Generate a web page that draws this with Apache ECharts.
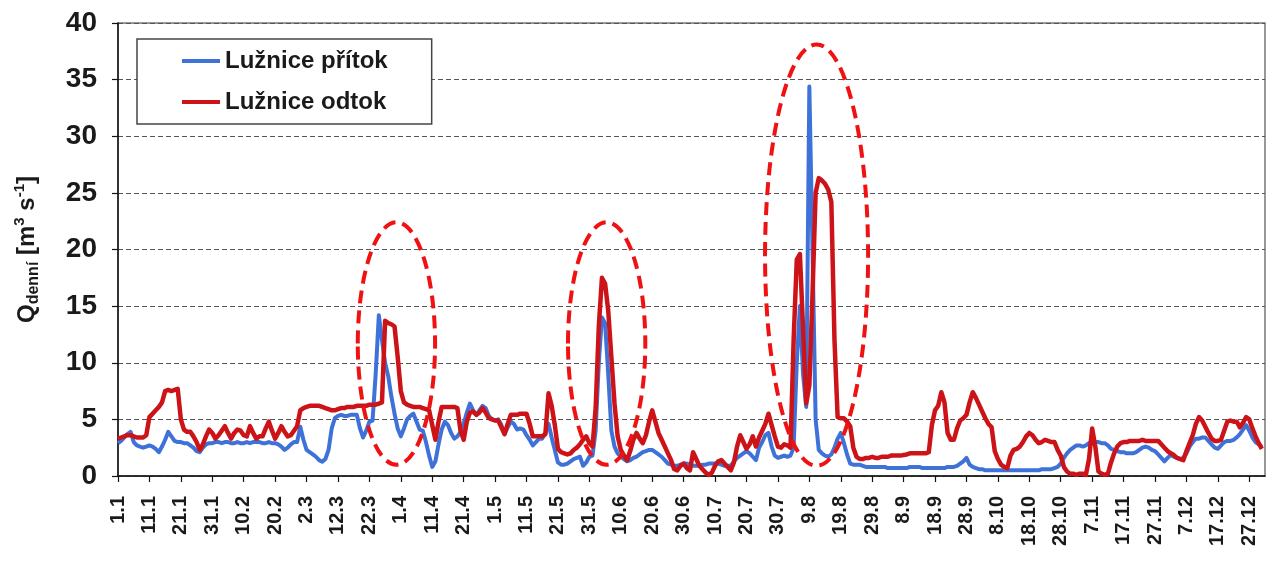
<!DOCTYPE html>
<html><head><meta charset="utf-8">
<script src="https://cdn.jsdelivr.net/npm/echarts@6/dist/echarts.min.js"></script>
<style>html,body{margin:0;padding:0;background:#fff}#c{width:1272px;height:567px}</style>
</head><body><div id="c"></div>
<script>
// x tick labels, one every 10 days (day 1 = index 0)
const tickLabels = ['1.1','11.1','21.1','31.1','10.2','20.2','2.3','12.3','22.3','1.4','11.4','21.4','1.5','11.5','21.5','31.5','10.6','20.6','30.6','10.7','20.7','30.7','9.8','19.8','29.8','8.9','18.9','28.9','8.10','18.10','28.10','7.11','17.11','27.11','7.12','17.12','27.12'];
const seriesNames = ['Lužnice přítok', 'Lužnice odtok'];
const yTicks = [0, 5, 10, 15, 20, 25, 30, 35, 40];

// daily inflow (přítok), m3/s
const inflow = [
2.9,3.1,3.4,3.7,3.9,3.0,2.7,2.6,2.5,2.6,
2.7,2.6,2.4,2.1,2.6,3.2,3.9,3.5,3.1,3.0,
3.0,2.9,2.9,2.7,2.5,2.2,2.1,2.5,2.8,2.9,
2.9,3.0,3.0,2.9,3.0,3.0,2.9,2.9,3.0,2.9,
2.9,3.0,2.9,3.0,3.0,3.0,2.9,2.9,3.0,2.9,
2.9,2.8,2.6,2.3,2.5,2.8,3.0,3.0,4.35,3.2,
2.3,2.1,1.9,1.7,1.4,1.26,1.5,2.3,4.2,5.1,
5.3,5.4,5.3,5.3,5.4,5.4,5.4,4.2,3.4,4.0,
4.8,4.9,9.0,14.2,12.0,10.0,8.8,7.0,5.5,4.2,
3.5,4.2,5.0,5.3,5.5,4.8,4.1,4.0,3.0,1.8,
0.8,1.3,2.8,4.1,4.8,4.5,3.8,3.3,3.5,3.9,
4.6,5.6,6.4,5.8,5.4,5.8,6.2,6.0,5.3,5.0,
4.9,5.0,4.5,3.7,4.3,4.8,4.6,4.1,4.2,4.1,
3.6,3.2,2.7,3.0,3.3,3.3,3.8,4.6,3.4,2.3,
1.2,1.0,1.0,1.1,1.3,1.5,1.6,1.7,0.9,1.2,
1.7,1.8,4.0,10.0,14.0,13.5,9.0,4.0,2.6,2.0,
1.7,1.5,1.3,1.4,1.6,1.7,1.9,2.1,2.2,2.3,
2.3,2.1,1.9,1.7,1.4,1.1,1.0,0.9,0.9,1.0,
1.1,1.1,1.0,0.9,0.9,0.9,1.0,1.0,1.1,1.1,
1.1,1.1,1.0,0.9,0.9,0.9,1.3,1.6,1.8,2.0,
2.2,2.0,1.7,1.4,2.5,3.0,3.6,3.8,2.6,1.8,
1.6,1.7,1.8,1.7,1.8,2.5,10.0,15.0,9.0,6.1,
34.4,20.0,5.0,2.3,2.0,1.8,1.7,1.9,2.5,3.3,
3.8,2.9,1.9,1.1,1.0,1.0,1.0,0.9,0.8,0.8,
0.8,0.8,0.8,0.8,0.8,0.7,0.7,0.7,0.7,0.7,
0.7,0.7,0.8,0.8,0.8,0.8,0.7,0.7,0.7,0.7,
0.7,0.7,0.7,0.7,0.8,0.8,0.8,0.9,1.1,1.3,
1.6,1.0,0.8,0.7,0.6,0.6,0.5,0.5,0.5,0.5,
0.5,0.5,0.5,0.5,0.5,0.5,0.5,0.5,0.5,0.5,
0.5,0.5,0.5,0.5,0.6,0.6,0.6,0.6,0.7,0.8,
1.1,1.6,2.0,2.3,2.5,2.7,2.7,2.6,2.7,2.9,
3.0,3.0,3.0,2.9,2.9,2.7,2.4,2.3,2.2,2.1,
2.1,2.0,2.0,2.0,2.1,2.3,2.5,2.6,2.5,2.3,
2.2,1.9,1.6,1.3,1.6,1.85,1.7,1.6,1.5,1.6,
2.0,2.6,3.0,3.3,3.3,3.4,3.4,3.1,2.8,2.5,
2.4,2.7,3.0,3.1,3.1,3.2,3.4,3.7,4.1,4.5,
4.0,3.4,3.0,2.8,2.6
];

// daily outflow (odtok), m3/s
const outflow = [
3.3,3.4,3.5,3.6,3.6,3.5,3.4,3.4,3.4,3.6,
5.2,5.5,5.8,6.1,6.5,7.5,7.6,7.5,7.6,7.7,
5.0,4.1,3.9,3.9,3.5,3.0,2.3,2.8,3.5,4.1,
3.8,3.3,3.6,4.0,4.4,3.8,3.3,3.8,4.1,4.0,
3.6,3.5,4.4,3.8,3.3,3.5,3.5,4.2,4.8,4.0,
3.3,3.8,4.4,3.9,3.5,3.6,4.0,4.4,5.8,6.0,
6.1,6.2,6.2,6.2,6.2,6.1,6.0,5.9,5.8,5.8,
5.9,6.0,6.0,6.1,6.1,6.1,6.2,6.2,6.2,6.2,
6.3,6.3,6.3,6.4,6.5,13.7,13.5,13.4,13.2,10.5,
7.5,6.5,6.3,6.2,6.1,6.1,6.1,6.0,5.9,5.8,
4.5,3.2,4.8,6.1,6.1,6.1,6.1,6.1,6.0,4.0,
3.2,4.8,5.6,5.7,5.4,5.6,6.0,5.6,5.1,5.0,
4.9,4.9,4.3,3.7,4.6,5.4,5.4,5.4,5.5,5.5,
5.5,4.6,3.5,3.5,3.5,3.5,3.7,7.3,6.2,4.5,
2.4,2.1,2.0,1.9,2.0,2.3,2.5,2.8,3.2,3.5,
2.9,2.6,6.0,13.2,17.5,17.0,14.6,10.5,6.4,3.5,
2.3,1.8,1.4,2.2,3.2,3.8,3.3,2.9,3.6,4.8,
5.8,4.8,3.8,3.2,2.6,2.0,1.4,0.6,0.5,0.9,
1.1,0.7,0.5,2.1,1.5,0.9,0.6,0.3,0.1,0.3,
0.9,1.3,1.4,1.1,0.8,0.5,1.2,2.6,3.6,3.0,
2.4,2.8,3.5,2.6,3.4,4.0,4.6,5.5,4.5,3.5,
2.6,2.5,2.8,2.7,2.5,12.0,19.1,19.6,13.0,6.4,
8.0,16.0,25.0,26.3,26.1,25.8,25.3,24.2,12.0,5.2,
5.1,5.1,4.8,4.4,2.5,1.7,1.5,1.5,1.6,1.6,
1.7,1.6,1.6,1.7,1.7,1.7,1.8,1.8,1.8,1.8,
1.85,1.9,2.0,2.0,2.0,2.0,2.0,2.0,2.1,4.5,
5.8,6.2,7.4,6.5,3.8,3.2,3.2,4.2,4.9,5.1,
5.4,6.5,7.4,6.9,6.3,5.7,5.1,4.6,4.3,2.2,
1.5,1.0,0.8,0.7,1.8,2.3,2.4,2.6,3.0,3.5,
3.8,3.6,3.2,2.9,3.0,3.2,3.1,3.0,3.0,2.3,
1.8,0.8,0.4,0.2,0.2,0.1,0.2,0.2,0.1,1.5,
4.2,2.6,0.4,0.2,0.1,0.2,1.2,2.0,2.6,2.9,
3.0,3.0,3.1,3.1,3.1,3.1,3.2,3.1,3.1,3.1,
3.1,3.1,2.8,2.5,2.2,2.0,1.85,1.6,1.5,1.4,
2.2,2.9,3.6,4.6,5.2,4.9,4.35,3.8,3.3,3.1,
3.1,3.2,4.0,4.8,4.9,4.8,4.8,4.3,4.7,5.2,
5.0,4.2,3.5,2.9,2.4
];

// highlighted flood episodes (day index, flow) – drawn as dashed ellipses
const highlights = [
  {day: 88.6, q: 11.7, halfDays: 12.3, halfQ: 10.7},
  {day: 155.5, q: 11.7, halfDays: 12.3, halfQ: 10.7},
  {day: 222.3, q: 19.5, halfDays: 16.4, halfQ: 18.6}
];

const FONT = '"Liberation Sans", Arial, sans-serif';
const chart = echarts.init(document.getElementById('c'), null, {renderer: 'canvas'});
chart.setOption({
  animation: false,
  backgroundColor: '#fff',
  grid: {left: 118, right: 7, top: 23, bottom: 91, show: true, borderColor: '#777', borderWidth: 1.5, backgroundColor: '#fff'},
  legend: {
    orient: 'vertical', left: 137, top: 39,
    padding: [10, 44, 10, 45], itemGap: 17, itemWidth: 38, itemHeight: 4, icon: 'rect',
    borderColor: '#444', borderWidth: 1.5, backgroundColor: '#fff', borderRadius: 0,
    textStyle: {fontSize: 24, fontWeight: 'bold', color: '#1a1a1a', fontFamily: FONT},
    data: seriesNames
  },
  xAxis: {
    type: 'value', min: 0, max: 365, interval: 10,
    axisLine: {show: true, onZero: false, lineStyle: {color: '#111', width: 1.5}},
    axisTick: {show: true, length: 6, lineStyle: {color: '#111', width: 1.2}},
    splitLine: {show: false},
    axisLabel: {
      rotate: 90, margin: 20, fontSize: 20, fontWeight: 'bold', color: '#1a1a1a', fontFamily: FONT,
      showMaxLabel: false,
      formatter: v => (v % 10 === 0 && tickLabels[v / 10]) ? tickLabels[v / 10] : ''
    }
  },
  yAxis: {
    type: 'value', min: yTicks[0], max: yTicks[yTicks.length - 1], interval: 5,
    axisLine: {show: true, lineStyle: {color: '#111', width: 1.5}},
    axisTick: {show: true, length: 6, lineStyle: {color: '#111', width: 1.2}},
    splitLine: {show: true, lineStyle: {type: [5, 3], color: '#555', width: 1.2}},
    axisLabel: {fontSize: 28, fontWeight: 'bold', color: '#1a1a1a', fontFamily: FONT, margin: 21},
    name: '{q|Q}{sub|denní}{q| [m}{sup|3}{q| s}{sup|-1}{q|]}',
    nameLocation: 'middle', nameRotate: 90, nameGap: 76,
    nameTextStyle: {
      rich: {
        q: {fontSize: 24, fontWeight: 'bold', color: '#1a1a1a', fontFamily: FONT, lineHeight: 30, verticalAlign: 'middle'},
        sub: {fontSize: 16, fontWeight: 'bold', color: '#1a1a1a', fontFamily: FONT, lineHeight: 16, verticalAlign: 'bottom'},
        sup: {fontSize: 15, fontWeight: 'bold', color: '#1a1a1a', fontFamily: FONT, lineHeight: 16, verticalAlign: 'top'}
      }
    }
  },
  series: [
    {name: seriesNames[0], type: 'line', data: inflow.map((v, i) => [i, v]), showSymbol: false, symbol: 'none',
     lineStyle: {color: '#3f72d8', width: 4, join: 'round'}, itemStyle: {color: '#3f72d8'}, z: 2},
    {name: seriesNames[1], type: 'line', data: outflow.map((v, i) => [i, v]), showSymbol: false, symbol: 'none',
     lineStyle: {color: '#cc1418', width: 4.5, join: 'round'}, itemStyle: {color: '#cc1418'}, z: 3}
  ]
});

const ellipses = highlights.map(h => {
  const c = chart.convertToPixel({gridIndex: 0}, [h.day, h.q]);
  const e = chart.convertToPixel({gridIndex: 0}, [h.day + h.halfDays, h.q + h.halfQ]);
  return {
    type: 'ellipse', z: 100, silent: true,
    shape: {cx: c[0], cy: c[1], rx: Math.abs(e[0] - c[0]), ry: Math.abs(c[1] - e[1])},
    style: {fill: 'none', stroke: '#f01212', lineWidth: 4, lineDash: [13, 7]}
  };
});
chart.setOption({graphic: ellipses});
</script>
</body></html>
